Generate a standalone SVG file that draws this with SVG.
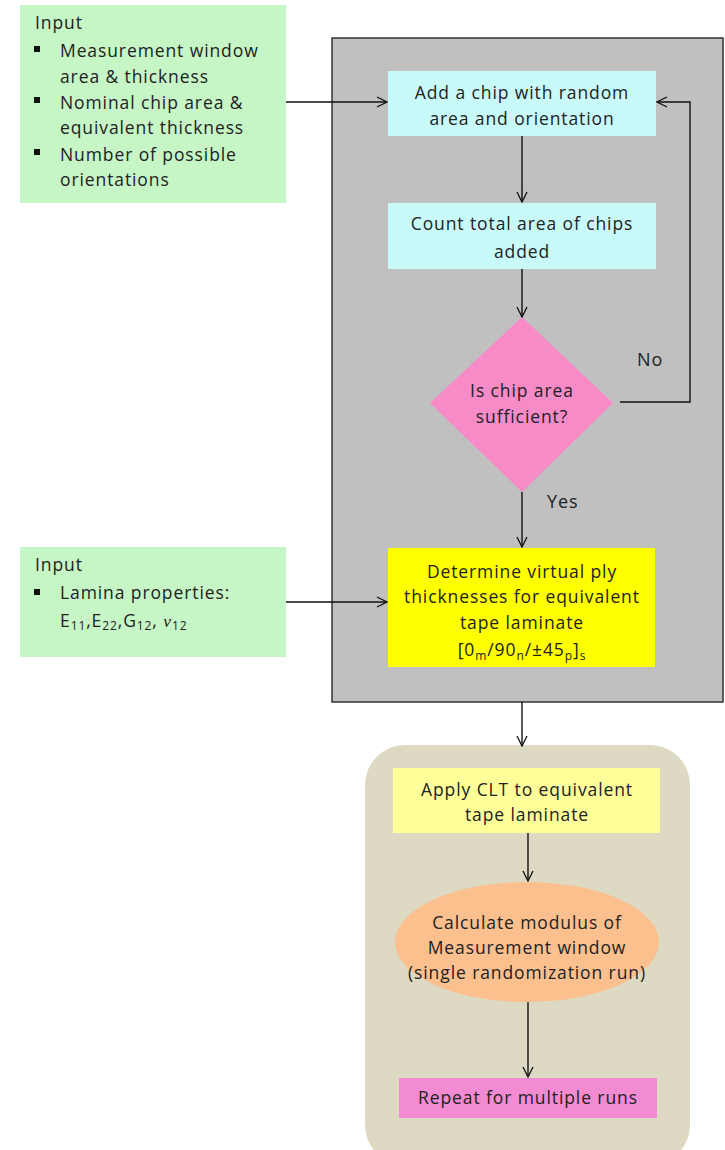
<svg xmlns="http://www.w3.org/2000/svg" width="725" height="1150" viewBox="0 0 725 1150">
<defs>
<marker id="arr" viewBox="0 0 12 12" refX="11" refY="6" markerWidth="12" markerHeight="12" markerUnits="userSpaceOnUse" orient="auto">
<path d="M1,1 L11,6 L1,11" fill="none" stroke="#111" stroke-width="1.3"/>
</marker>
</defs>
<style>
text{font-family:"Open Sans","Liberation Sans",sans-serif;font-size:17.5px;letter-spacing:0.9px;fill:#222}
.c{text-anchor:middle}
.conn{fill:none;stroke:#111;stroke-width:1.4}
.lbl{font-size:18px}
</style>
<rect width="725" height="1150" fill="#ffffff"/>
<g id="loop-frame"><rect x="332" y="38" width="391" height="664" fill="#c0c0c0" stroke="#333" stroke-width="1.5"/></g>
<g id="clt-frame"><rect x="365" y="745" width="325" height="420" rx="40" ry="40" fill="#ddd9c3"/></g>
<g id="input1">
<rect x="20" y="5" width="266" height="198" fill="#c6f5c6"/>
<text x="35" y="29">Input</text>
<rect x="34" y="46" width="6" height="6" fill="#111"/><rect x="34" y="97" width="6" height="6" fill="#111"/><rect x="34" y="149" width="6" height="6" fill="#111"/>
<text x="60" y="57">Measurement window</text>
<text x="60" y="83">area &amp; thickness</text>
<text x="60" y="109">Nominal chip area &amp;</text>
<text x="60" y="134">equivalent thickness</text>
<text x="60" y="161">Number of possible</text>
<text x="60" y="186">orientations</text>
</g>
<g id="input2">
<rect x="20" y="547" width="266" height="110" fill="#c6f5c6"/>
<text x="35" y="571">Input</text>
<rect x="34" y="589" width="6" height="6" fill="#111"/>
<text x="60" y="599">Lamina properties:</text>
<text x="60" y="627" letter-spacing="0">E<tspan font-size="12" dy="3">11</tspan><tspan dy="-3">,E</tspan><tspan font-size="12" dy="3">22</tspan><tspan dy="-3">,G</tspan><tspan font-size="12" dy="3">12</tspan><tspan dy="-3">, </tspan><tspan font-family="Liberation Serif, serif" font-style="italic">ν</tspan><tspan font-size="12" dy="3">12</tspan></text>
</g>
<g id="add-chip">
<rect x="388" y="71" width="268" height="65" fill="#c8fafa"/>
<text class="c" x="522" y="99">Add a chip with random</text>
<text class="c" x="522" y="125">area and orientation</text>
</g>
<g id="count">
<rect x="388" y="203" width="268" height="66" fill="#c8fafa"/>
<text class="c" x="522" y="230">Count total area of chips</text>
<text class="c" x="522" y="258">added</text>
</g>
<g id="decision">
<polygon points="522,317 613,403 522,492 430,403" fill="#f78bc8"/>
<text class="c" x="522" y="397">Is chip area</text>
<text class="c" x="522" y="423">sufficient?</text>
</g>
<g id="determine">
<rect x="388" y="548" width="267" height="119" fill="#ffff00"/>
<text class="c" x="522" y="578">Determine virtual ply</text>
<text class="c" x="522" y="603">thicknesses for equivalent</text>
<text class="c" x="522" y="629">tape laminate</text>
<text class="c" x="522" y="656" letter-spacing="0">[0<tspan font-size="12" dy="4">m</tspan><tspan dy="-4">/90</tspan><tspan font-size="12" dy="4">n</tspan><tspan dy="-4">/±45</tspan><tspan font-size="12" dy="4">p</tspan><tspan dy="-4">]</tspan><tspan font-size="12" dy="4">s</tspan></text>
</g>
<g id="apply-clt">
<rect x="393" y="768" width="267" height="65" fill="#ffff99"/>
<text class="c" x="527" y="796">Apply CLT to equivalent</text>
<text class="c" x="527" y="821">tape laminate</text>
</g>
<g id="calculate">
<ellipse cx="527" cy="942" rx="132" ry="60" fill="#fbc08e"/>
<text class="c" x="527" y="929">Calculate modulus of</text>
<text class="c" x="527" y="954">Measurement window</text>
<text class="c" x="527" y="979">(single randomization run)</text>
</g>
<g id="repeat">
<rect x="399" y="1078" width="258" height="40" fill="#f28bd2"/>
<text class="c" x="528" y="1104">Repeat for multiple runs</text>
</g>
<g id="connectors">
<path class="conn" d="M286,102 L387,102" marker-end="url(#arr)"/>
<path class="conn" d="M522,136 L522,202" marker-end="url(#arr)"/>
<path class="conn" d="M522,269 L522,317" marker-end="url(#arr)"/>
<path class="conn" d="M620,402 L690,402 L690,102 L657,102" marker-end="url(#arr)"/>
<path class="conn" d="M522,492 L522,547" marker-end="url(#arr)"/>
<path class="conn" d="M286,602 L387,602" marker-end="url(#arr)"/>
<path class="conn" d="M522,702 L522,746" marker-end="url(#arr)"/>
<path class="conn" d="M528,833 L528,881" marker-end="url(#arr)"/>
<path class="conn" d="M528,1002 L528,1077" marker-end="url(#arr)"/>
<text class="lbl" x="637" y="366">No</text>
<text class="lbl" x="547" y="508">Yes</text>
</g>
</svg>
